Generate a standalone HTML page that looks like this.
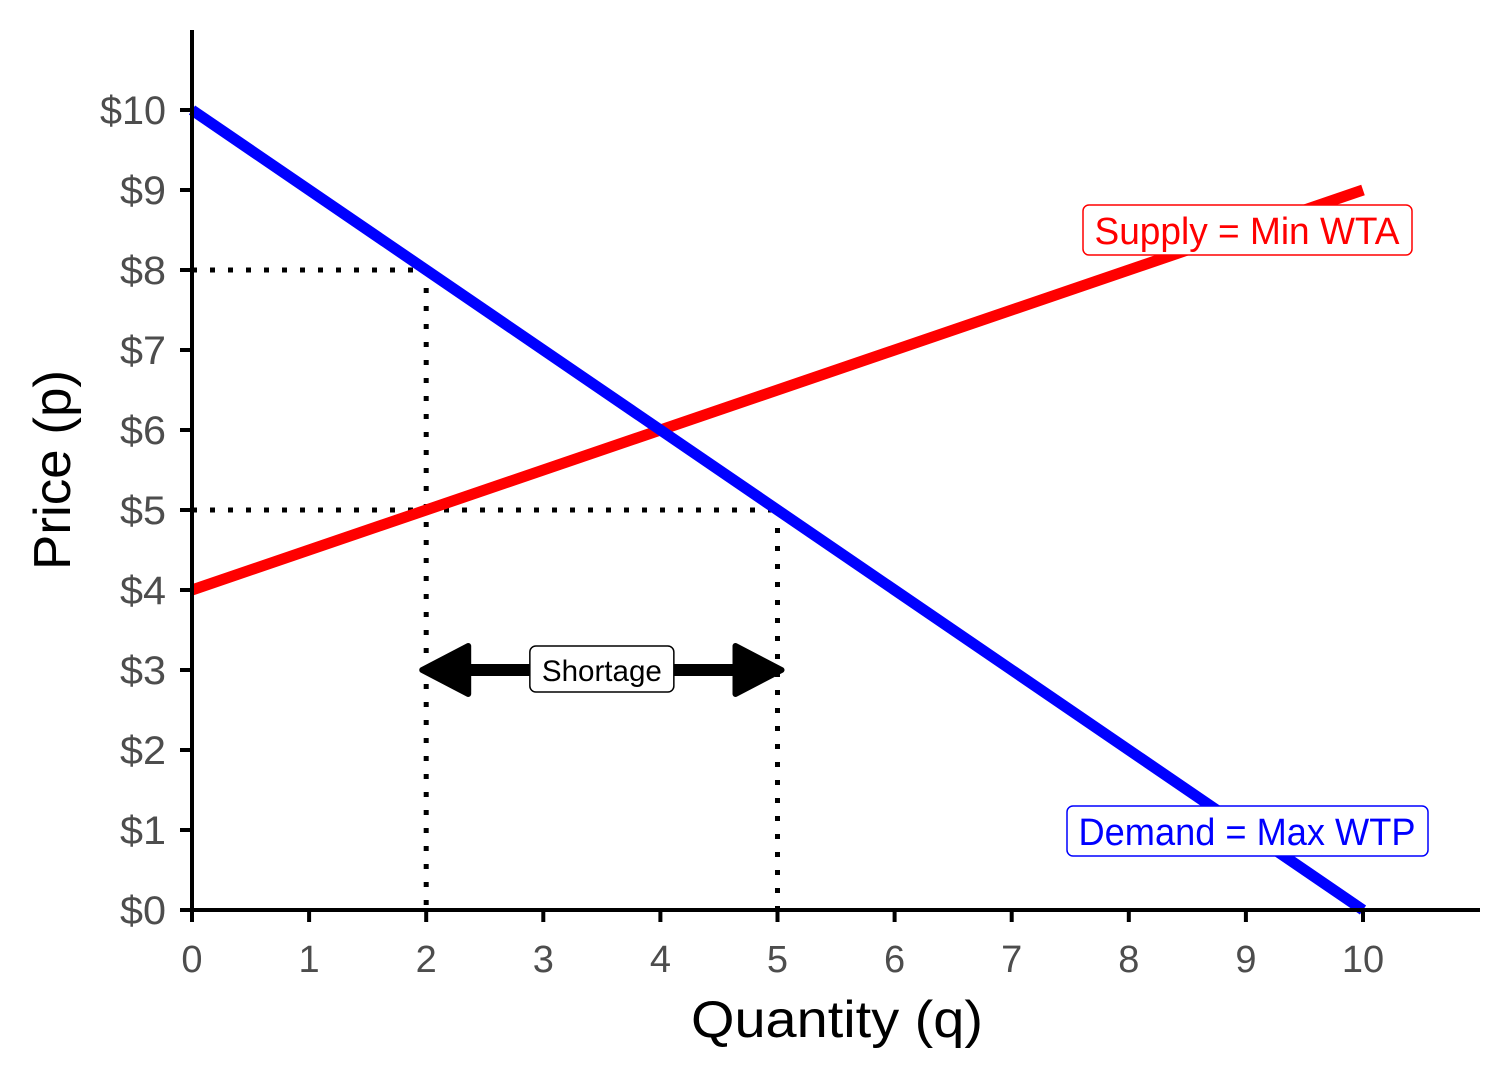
<!DOCTYPE html>
<html><head><meta charset="utf-8"><style>
body{margin:0;background:#fff}
svg text{font-family:"Liberation Sans",sans-serif}
</style></head><body>
<svg width="1512" height="1080" xmlns="http://www.w3.org/2000/svg">
<g id="g"></g>
</svg>
<script>
const qTicks=[0,1,2,3,4,5,6,7,8,9,10];
const pTicks=[0,1,2,3,4,5,6,7,8,9,10];
const supplyQ=[0,10], supplyP=[4,9];
const demandQ=[0,10], demandP=[10,0];
const priceCeiling=5, qSupplied=2, qDemanded=5, pAtQs=8, arrowP=3;
const X=q=>192+q*117.1, Y=p=>910-p*80;
const g=document.getElementById('g');const NS='http://www.w3.org/2000/svg';
function el(t,a,name,txt){const e=document.createElementNS(NS,t);for(const k in a)e.setAttribute(k,a[k]);


if(txt!==undefined)e.textContent=txt;g.appendChild(e);return e;}
// dotted guides
const dot={stroke:'#000','stroke-width':5,'stroke-dasharray':'5 13',fill:'none'};
el('line',Object.assign({x1:X(0),y1:Y(pAtQs),x2:X(qSupplied),y2:Y(pAtQs)},dot),'guide-p8');
el('line',Object.assign({x1:X(0),y1:Y(priceCeiling),x2:X(qDemanded),y2:Y(priceCeiling)},dot),'guide-p5');
el('line',Object.assign({x1:X(qSupplied),y1:Y(pAtQs),x2:X(qSupplied),y2:Y(0)},dot),'guide-q2');
el('line',Object.assign({x1:X(qDemanded),y1:Y(priceCeiling),x2:X(qDemanded),y2:Y(0)},dot),'guide-q5');
// lines
el('line',{x1:X(supplyQ[0]),y1:Y(supplyP[0]),x2:X(supplyQ[1]),y2:Y(supplyP[1]),stroke:'#ff0000','stroke-width':11},'supply-line');
el('line',{x1:X(demandQ[0]),y1:Y(demandP[0]),x2:X(demandQ[1]),y2:Y(demandP[1]),stroke:'#0000ff','stroke-width':11},'demand-line');
// axes
el('line',{x1:192,y1:30,x2:192,y2:912,stroke:'#000','stroke-width':4},'y-axis');
el('line',{x1:190,y1:910,x2:1480,y2:910,stroke:'#000','stroke-width':4},'x-axis');
qTicks.forEach(q=>{el('line',{x1:X(q),y1:910,x2:X(q),y2:922,stroke:'#000','stroke-width':4},'x-tick');
el('text',{x:X(q),y:972,'text-anchor':'middle','font-size':38,fill:'#4d4d4d'},'x-tick-label',String(q));});
pTicks.forEach(p=>{el('line',{x1:180,y1:Y(p),x2:192,y2:Y(p),stroke:'#000','stroke-width':4},'y-tick');
el('text',{x:166,y:Y(p)+14,'text-anchor':'end','font-size':40,fill:'#4d4d4d',textLength:p==10?66:46,lengthAdjust:'spacingAndGlyphs'},'y-tick-label','$'+p);});
el('text',{x:837,y:1037,'text-anchor':'middle','font-size':52,fill:'#000',textLength:292,lengthAdjust:'spacingAndGlyphs'},'x-axis-title','Quantity (q)');
el('text',{x:0,y:0,'text-anchor':'middle','font-size':52,fill:'#000',transform:'translate(70,470) rotate(-90)',textLength:200,lengthAdjust:'spacingAndGlyphs'},'y-axis-title','Price (p)');
// arrow
el('line',{x1:X(qSupplied)+30,y1:Y(arrowP),x2:X(qDemanded)-30,y2:Y(arrowP),stroke:'#000','stroke-width':12},'shortage-arrow');
el('polygon',{points:`${X(qSupplied)-4},${Y(arrowP)} ${X(qSupplied)+42},${Y(arrowP)-24} ${X(qSupplied)+42},${Y(arrowP)+24}`,fill:'#000',stroke:'#000','stroke-width':6,'stroke-linejoin':'round'},'arrowhead-left');
el('polygon',{points:`${X(qDemanded)+4},${Y(arrowP)} ${X(qDemanded)-42},${Y(arrowP)-24} ${X(qDemanded)-42},${Y(arrowP)+24}`,fill:'#000',stroke:'#000','stroke-width':6,'stroke-linejoin':'round'},'arrowhead-right');
const mx=(X(qSupplied)+X(qDemanded))/2;
el('rect',{x:mx-72,y:Y(arrowP)-24,width:144,height:46,rx:6,fill:'#fff',stroke:'#000','stroke-width':1.5},'shortage-label-box');
el('text',{x:mx,y:Y(arrowP)+11,'text-anchor':'middle','font-size':30,fill:'#000',textLength:120,lengthAdjust:'spacingAndGlyphs'},'shortage-label','Shortage');
// labels
el('rect',{x:1083,y:205,width:329,height:50,rx:6,fill:'#fff',stroke:'#ff0000','stroke-width':1.5},'supply-label-box');
el('text',{x:1247,y:244,'text-anchor':'middle','font-size':38,fill:'#ff0000',textLength:305,lengthAdjust:'spacingAndGlyphs'},'supply-label','Supply = Min WTA');
el('rect',{x:1067,y:806,width:361,height:50,rx:6,fill:'#fff',stroke:'#0000ff','stroke-width':1.5},'demand-label-box');
el('text',{x:1247,y:845,'text-anchor':'middle','font-size':38,fill:'#0000ff',textLength:337,lengthAdjust:'spacingAndGlyphs'},'demand-label','Demand = Max WTP');
</script>
</body></html>
